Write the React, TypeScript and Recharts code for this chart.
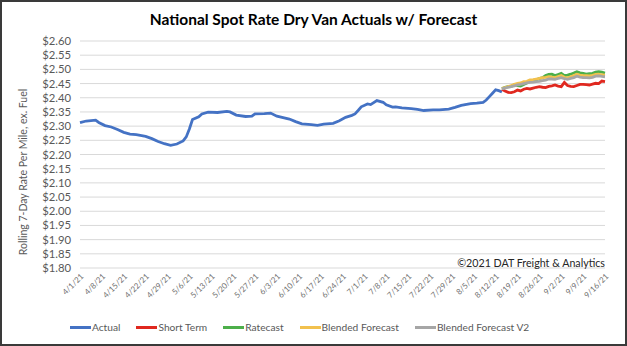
import React from 'react';
import { LineChart, Line, XAxis, YAxis, CartesianGrid } from 'recharts';

const tickDays = [0, 7, 14, 21, 28, 35, 42, 49, 56, 63, 70, 77, 84, 91, 98, 105, 112, 119, 126, 133, 140, 147, 154, 161, 168];
const tickLabels = ['4/1/21', '4/8/21', '4/15/21', '4/22/21', '4/29/21', '5/6/21', '5/13/21', '5/20/21', '5/27/21', '6/3/21', '6/10/21', '6/17/21', '6/24/21', '7/1/21', '7/8/21', '7/15/21', '7/22/21', '7/29/21', '8/5/21', '8/12/21', '8/19/21', '8/26/21', '9/2/21', '9/9/21', '9/16/21'];
const yTicks = [1.8, 1.85, 1.9, 1.95, 2.0, 2.05, 2.1, 2.15, 2.2, 2.25, 2.3, 2.35, 2.4, 2.45, 2.5, 2.55, 2.6];

const actualDays = [0, 2, 5, 6, 8, 10, 12, 14, 16, 18, 21, 23, 25, 27, 29, 31, 33, 34, 35, 36, 38, 39, 41, 44, 47, 48, 50, 53, 55, 56, 59, 61, 63, 65, 67, 69, 71, 74, 76, 78, 81, 83, 85, 87, 88, 89, 90, 92, 93, 95, 97, 98, 100, 101, 103, 106, 108, 110, 113, 115, 118, 120, 122, 125, 127, 129, 130, 131, 132, 133, 134, 135];
const actualValues = [2.312, 2.318, 2.321, 2.313, 2.302, 2.297, 2.288, 2.278, 2.272, 2.27, 2.264, 2.256, 2.246, 2.238, 2.232, 2.237, 2.248, 2.262, 2.29, 2.323, 2.333, 2.343, 2.349, 2.348, 2.352, 2.35, 2.339, 2.334, 2.335, 2.343, 2.344, 2.346, 2.335, 2.33, 2.325, 2.316, 2.308, 2.305, 2.303, 2.307, 2.31, 2.319, 2.331, 2.338, 2.343, 2.355, 2.368, 2.378, 2.376, 2.39, 2.384, 2.375, 2.367, 2.368, 2.364, 2.362, 2.359, 2.355, 2.357, 2.357, 2.36, 2.366, 2.373, 2.379, 2.381, 2.384, 2.392, 2.404, 2.416, 2.428, 2.425, 2.42];

const forecastDays = [135, 136, 137, 138, 139, 140, 141, 142, 143, 144, 145, 146, 147, 148, 149, 150, 151, 152, 153, 154, 155, 156, 157, 158, 159, 160, 161, 162, 163, 164, 165, 166, 167, 168];
const shortTerm = [2.43, 2.424, 2.419, 2.418, 2.421, 2.427, 2.424, 2.43, 2.433, 2.431, 2.434, 2.437, 2.439, 2.437, 2.436, 2.44, 2.442, 2.445, 2.441, 2.439, 2.454, 2.443, 2.44, 2.439, 2.443, 2.447, 2.447, 2.446, 2.445, 2.448, 2.451, 2.45, 2.459, 2.457];
const ratecast = [2.432, 2.437, 2.439, 2.44, 2.446, 2.443, 2.441, 2.447, 2.452, 2.459, 2.461, 2.463, 2.468, 2.471, 2.478, 2.482, 2.483, 2.478, 2.482, 2.486, 2.478, 2.48, 2.483, 2.487, 2.492, 2.488, 2.486, 2.483, 2.485, 2.486, 2.49, 2.492, 2.49, 2.487];
const blended = [2.433, 2.436, 2.439, 2.443, 2.447, 2.451, 2.452, 2.457, 2.458, 2.463, 2.464, 2.466, 2.468, 2.471, 2.472, 2.474, 2.473, 2.471, 2.475, 2.478, 2.472, 2.47, 2.474, 2.478, 2.483, 2.48, 2.478, 2.478, 2.477, 2.479, 2.482, 2.483, 2.481, 2.48];
const blendedV2 = [2.431, 2.434, 2.437, 2.439, 2.442, 2.445, 2.447, 2.45, 2.452, 2.454, 2.455, 2.457, 2.458, 2.46, 2.462, 2.466, 2.466, 2.465, 2.468, 2.471, 2.467, 2.465, 2.468, 2.471, 2.476, 2.473, 2.471, 2.471, 2.47, 2.472, 2.476, 2.477, 2.475, 2.474];

const seriesInfo = [
  { key: 'actual', name: 'Actual', color: '#4472C4' },
  { key: 'shortTerm', name: 'Short Term', color: '#E0281F' },
  { key: 'ratecast', name: 'Ratecast', color: '#4DAF4A' },
  { key: 'blended', name: 'Blended Forecast', color: '#F2C14E' },
  { key: 'blendedV2', name: 'Blended Forecast V2', color: '#A6A6A6' },
];

const rowMap = new Map<number, any>();
const getRow = (d: number) => {
  if (!rowMap.has(d)) rowMap.set(d, { day: d });
  return rowMap.get(d);
};
actualDays.forEach((d, i) => { getRow(d).actual = actualValues[i]; });
forecastDays.forEach((d, i) => {
  const r = getRow(d);
  r.shortTerm = shortTerm[i];
  r.ratecast = ratecast[i];
  r.blended = blended[i];
  r.blendedV2 = blendedV2[i];
});
const data = Array.from(rowMap.values()).sort((a, b) => a.day - b.day);

const FONT = 'Lato, "Noto Sans", sans-serif';

const XTick = (props: any) => {
  const { x, y, payload } = props;
  const idx = tickDays.indexOf(payload.value);
  const label = idx >= 0 ? tickLabels[idx] : '';
  return (
    <g transform={`translate(${x + 4},${y + 9})`}>
      <text textAnchor="end" transform="rotate(-45)" fontSize={8} fill="#6f6f6f" fontFamily={FONT}>
        {label}
      </text>
    </g>
  );
};

export default function App() {
  return (
    <div style={{ position: 'absolute', left: 0, top: 0, width: 627, height: 346, background: '#fff', fontFamily: FONT }}>
      <LineChart width={627} height={346} data={data} margin={{ top: 41, right: 22, left: 0, bottom: 0 }}>
        <CartesianGrid vertical={false} stroke="#D9D9D9" strokeWidth={1} />
        <XAxis
          dataKey="day"
          type="number"
          domain={[0, 168]}
          ticks={tickDays}
          interval={0}
          height={78}
          axisLine={false}
          tickLine={false}
          tickSize={0}
          tickMargin={0}
          tick={<XTick />}
        />
        <YAxis
          type="number"
          domain={[1.8, 2.6]}
          ticks={yTicks}
          interval={0}
          width={80}
          axisLine={false}
          tickLine={false}
          tickSize={0}
          tickMargin={9}
          tickFormatter={(v: number) => '$' + v.toFixed(2)}
          tick={{ fontSize: 11.3, fill: '#595959', fontFamily: FONT }}
        />
        {seriesInfo.map((s) => (
          <Line
            key={s.key}
            dataKey={s.key}
            name={s.name}
            stroke={s.color}
            strokeWidth={2.8}
            dot={false}
            connectNulls
            isAnimationActive={false}
          />
        ))}
      </LineChart>

      <div style={{ position: 'absolute', left: 0, top: 10, width: 627, textAlign: 'center', fontSize: 15.5, lineHeight: '18px', fontWeight: 700, color: '#000' }}>
        National Spot Rate Dry Van Actuals w/ Forecast
      </div>

      <div style={{ position: 'absolute', left: 23, top: 172, transform: 'translate(-50%, -50%) rotate(-90deg)', whiteSpace: 'nowrap', fontSize: 10.5, color: '#595959', lineHeight: '12px' }}>
        Rolling 7-Day Rate Per Mile, ex. Fuel
      </div>

      <div style={{ position: 'absolute', right: 22, top: 255, fontSize: 10.7, color: '#262626', lineHeight: '16px', whiteSpace: 'nowrap' }}>
        ©2021 DAT Freight &amp; Analytics
      </div>

      <div style={{ position: 'absolute', left: 70, top: 320, height: 14, display: 'flex', alignItems: 'center', whiteSpace: 'nowrap' }}>
        {seriesInfo.map((s, i) => (
          <div key={s.key} style={{ display: 'flex', alignItems: 'center', marginRight: i < seriesInfo.length - 1 ? 16 : 0 }}>
            <span style={{ display: 'inline-block', width: 21, height: 3, background: s.color, marginRight: 1 }} />
            <span style={{ fontSize: 10.2, color: '#595959', lineHeight: '14px' }}>{s.name}</span>
          </div>
        ))}
      </div>

      <div style={{ position: 'absolute', left: 0, top: 0, width: 627, height: 346, boxSizing: 'border-box', border: '2px solid #3a3a3a', pointerEvents: 'none' }} />
    </div>
  );
}
